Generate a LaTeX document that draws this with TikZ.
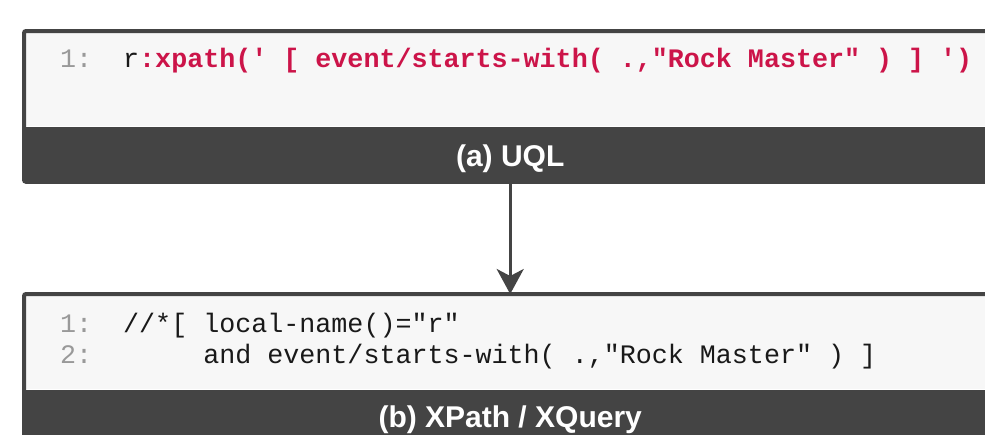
\documentclass[tikz,border=0pt]{standalone}
\usepackage{fontspec}
\setsansfont{Liberation Sans}
\setmonofont{Liberation Mono}
\usetikzlibrary{arrows.meta}

\definecolor{bandgray}{HTML}{444444}
\definecolor{panegray}{HTML}{F7F7F7}
\definecolor{linenogray}{HTML}{999999}
\definecolor{codered}{HTML}{CC1449}
\newcommand{\codesize}{\fontsize{26.7pt}{32pt}\selectfont}
\newcommand{\capsize}{\fontsize{30pt}{35pt}\selectfont}

\begin{document}
\begin{tikzpicture}[x=1pt,y=-1pt,
    pane/.style={rectangle,fill=panegray,inner sep=0pt,anchor=north west,
      minimum width=972pt,minimum height=95pt},
    band/.style={rectangle,fill=bandgray,inner sep=0pt,anchor=north west,
      minimum width=972pt,minimum height=55pt},
    boxframe/.style={draw=bandgray,line width=4pt,rounded corners=2pt},
    lineno/.style={anchor=base west,inner sep=0pt,text=linenogray,font=\ttfamily\codesize},
    codeline/.style={anchor=base west,inner sep=0pt,text=black!90,font=\ttfamily\codesize},
    capline/.style={anchor=base,inner sep=0pt,text=white,font=\sffamily\bfseries\capsize},
    flow/.style={draw=bandgray,line width=3pt,-{Stealth[length=25pt,width=27pt,inset=7pt]}}]
  \clip (0,0) rectangle (985,434);

  % UQL query
  \node[pane] (uql) at (24,31) {};
  \node[band] (uqlband) at (uql.south west) {};
  \draw[boxframe] (uql.north west) rectangle (uqlband.south east);
  \node[lineno] (uqlno1) at (60,67) {1:};
  \node[codeline] (uqlcode1) at (123,67)
    {r\textcolor{codered}{\bfseries:xpath(' [ event/starts-with( .,"Rock Master" ) ] ')}};
  \node[capline] (uqlcap) at (uqlband.center |- 0,166) {(a) UQL};

  % translated XPath
  \node[pane] (xq) at (24,294) {};
  \node[band] (xqband) at (xq.south west) {};
  \draw[boxframe] (xq.north west) rectangle (xqband.south east);
  \node[lineno] (xqno1) at (60,332) {1:};
  \node[codeline] (xqcode1) at (123,332) {//*[ local-name()="r"};
  \node[lineno] (xqno2) at (60,363) {2:};
  \node[codeline] (xqcode2) at (123,363)
    {\hphantom{//*[ }and event/starts-with( .,"Rock Master" ) ]};
  \node[capline] (xqcap) at (xqband.center |- 0,427) {(b) XPath / XQuery};

  \draw[flow] (uqlband.south) -- (xq.north);
\end{tikzpicture}
\end{document}
